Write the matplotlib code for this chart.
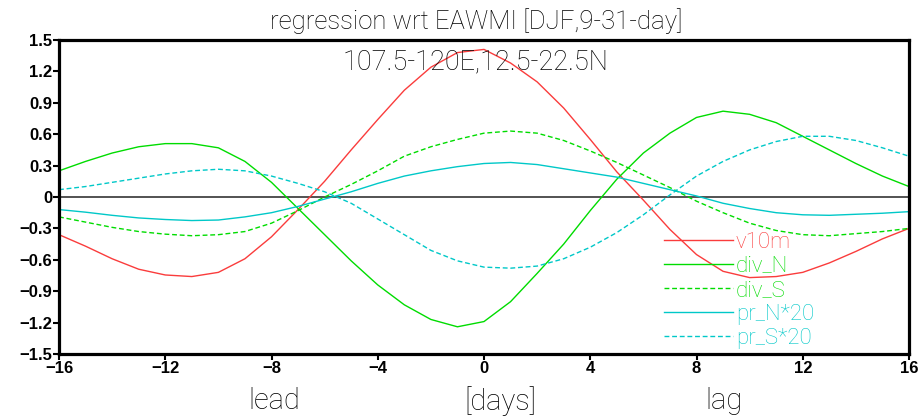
import matplotlib
matplotlib.use("Agg")
import matplotlib.pyplot as plt
import matplotlib.transforms as mtransforms

# lag in days (negative = lead)
days = list(range(-16, 17))

v10m = [-0.36, -0.47, -0.59, -0.69, -0.745, -0.76, -0.72, -0.59, -0.38, -0.12,
        0.15, 0.45, 0.74, 1.02, 1.24, 1.38, 1.41, 1.28, 1.10, 0.85, 0.55, 0.24,
        -0.03, -0.31, -0.55, -0.71, -0.77, -0.76, -0.72, -0.63, -0.52, -0.40, -0.30]
div_N = [0.25, 0.34, 0.42, 0.48, 0.51, 0.51, 0.47, 0.34, 0.14, -0.11, -0.36,
         -0.61, -0.84, -1.03, -1.17, -1.24, -1.19, -1.00, -0.73, -0.45, -0.13,
         0.17, 0.42, 0.61, 0.76, 0.82, 0.79, 0.71, 0.58, 0.45, 0.32, 0.20, 0.10]
div_S = [-0.19, -0.24, -0.29, -0.33, -0.355, -0.37, -0.36, -0.33, -0.25, -0.13,
         0.0, 0.12, 0.25, 0.39, 0.48, 0.55, 0.61, 0.63, 0.61, 0.54, 0.44, 0.33,
         0.21, 0.09, -0.04, -0.15, -0.25, -0.32, -0.36, -0.37, -0.35, -0.33, -0.30]
pr_N = [-0.12, -0.145, -0.175, -0.20, -0.215, -0.225, -0.22, -0.19, -0.15, -0.09,
        -0.02, 0.05, 0.13, 0.20, 0.25, 0.29, 0.32, 0.33, 0.31, 0.27, 0.23, 0.19,
        0.13, 0.07, 0.01, -0.06, -0.11, -0.15, -0.17, -0.175, -0.165, -0.155, -0.14]
pr_S = [0.07, 0.10, 0.14, 0.18, 0.22, 0.25, 0.265, 0.25, 0.20, 0.13, 0.05,
        -0.06, -0.21, -0.36, -0.51, -0.61, -0.67, -0.68, -0.66, -0.59, -0.48,
        -0.34, -0.17, 0.02, 0.20, 0.34, 0.45, 0.53, 0.58, 0.58, 0.54, 0.47, 0.39]

x_ticks = [-16, -12, -8, -4, 0, 4, 8, 12, 16]
y_ticks = [-1.5, -1.2, -0.9, -0.6, -0.3, 0, 0.3, 0.6, 0.9, 1.2, 1.5]
y_ticklabels = ["\u22121.5", "\u22121.2", "\u22120.9", "\u22120.6", "\u22120.3", "0",
                "0.3", "0.6", "0.9", "1.2", "1.5"]
bottom_labels = [(-7.9, "lead"), (0.6, "[days]"), (9.05, "lag")]

RED = "#fa3c3c"
GREEN = "#00dc00"
CYAN = "#00c8c8"
THIN = "Roboto"

fig = plt.figure(figsize=(9.22, 4.17), dpi=100)
ax = fig.add_axes([59 / 922, 63 / 417, 850 / 922, 314 / 417])

ax.axhline(0, color="#444444", lw=1.3, zorder=1)
ax.plot(days, v10m, color=RED, lw=1.0, label="v10m")
ax.plot(days, div_N, color=GREEN, lw=1.0, label="div_N")
ax.plot(days, div_S, color=GREEN, lw=1.0, ls=(0, (3.5, 2)), label="div_S")
ax.plot(days, pr_N, color=CYAN, lw=1.0, label="pr_N*20")
ax.plot(days, pr_S, color=CYAN, lw=1.0, ls=(0, (3.5, 2)), label="pr_S*20")

ax.set_xlim(-16, 16)
ax.set_ylim(-1.5, 1.5)
ax.set_xticks(x_ticks)
ax.set_yticks(y_ticks)
ax.set_yticklabels(y_ticklabels)
for lab in ax.get_xticklabels() + ax.get_yticklabels():
    lab.set_fontfamily("Liberation Sans")
    lab.set_fontweight("bold")
    lab.set_fontsize(12)
ax.tick_params(direction="out", length=4, width=1.5, pad=1)
for sp in ax.spines.values():
    sp.set_linewidth(2.3)

leg = ax.legend(loc="upper left", bbox_to_anchor=(0.712, 0.39), frameon=False,
                handlelength=3.1, handletextpad=0.12, labelspacing=0.14,
                borderpad=0, borderaxespad=0, labelcolor="linecolor",
                prop={"family": THIN, "weight": "light", "size": 16})

fig.text(0.516, 0.95, "regression wrt EAWMI [DJF,9-31-day]", ha="center", va="center",
         family=THIN, weight="light", fontsize=18.5)
ax.text(0.49, 0.93, "107.5-120E,12.5-22.5N", transform=ax.transAxes, ha="center",
        va="center", family=THIN, weight="light", fontsize=19.5)

trans = mtransforms.blended_transform_factory(ax.transData, ax.transAxes)
for xv, s in bottom_labels:
    ax.text(xv, -0.15, s, transform=trans, ha="center", va="center",
            family=THIN, weight="light", fontsize=21)

fig.savefig("out.png", dpi=100)
